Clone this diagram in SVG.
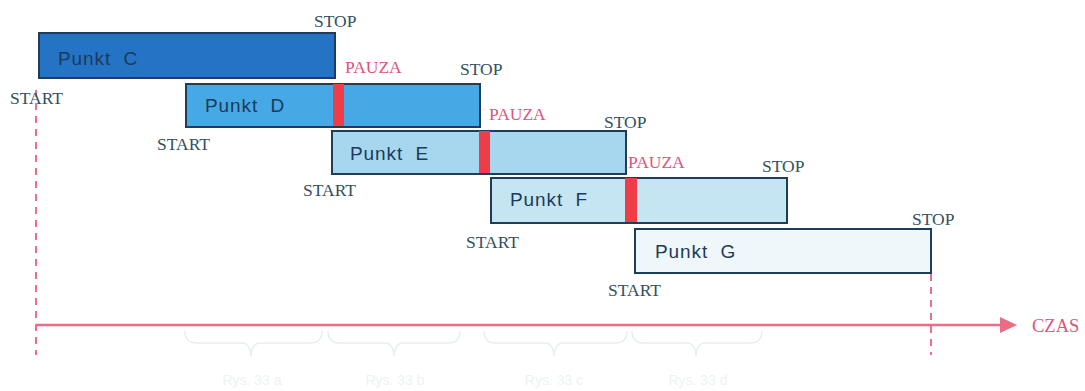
<svg xmlns="http://www.w3.org/2000/svg" width="1085" height="391" viewBox="0 0 1085 391">
<defs>
<style>
.box{stroke:#1d3d5a;stroke-width:2}
.pt{font-family:"Liberation Sans",Arial,sans-serif;font-size:19px;letter-spacing:0.9px;fill:#1c3a5a;white-space:pre}
.lbl{font-family:"Liberation Serif","Times New Roman",serif;font-size:17.5px;fill:#33505f}
.pz{font-family:"Liberation Serif","Times New Roman",serif;font-size:17.5px;fill:#e2547a}
.bar{fill:#ee3c48}
.dash{stroke:#ee6e8c;stroke-width:2;stroke-dasharray:7,6;fill:none}
.brace{fill:none;stroke:#e8eef4;stroke-width:1.5}
.rys{font-family:"Liberation Sans",Arial,sans-serif;font-size:14px;fill:#eef2f6;text-anchor:middle}
</style>
</defs>
<rect width="1085" height="391" fill="#ffffff"/>
<g id="connectors">
<line class="dash" x1="36" y1="90" x2="36" y2="355"/>
<line class="dash" x1="931" y1="274" x2="931" y2="355"/>
<line x1="36" y1="325" x2="1003" y2="325" stroke="#ef6a85" stroke-width="2.5"/>
<path d="M1000,317 L1017,325 L1000,333 z" fill="#ef6a85"/>
</g>
<g id="punkt-c">
<rect class="box" x="39" y="33" width="296" height="45" fill="#2473c4"/>
<text class="pt" x="58" y="65">Punkt  C</text>
<text class="lbl" x="314" y="27">STOP</text>
<text class="lbl" x="10" y="104">START</text>
</g>
<g id="punkt-d">
<rect class="box" x="186" y="84" width="294" height="43" fill="#46a8e4"/>
<rect class="bar" x="333" y="84" width="11" height="42"/>
<text class="pt" x="205" y="112">Punkt  D</text>
<text class="pz" x="345" y="73">PAUZA</text>
<text class="lbl" x="460" y="75">STOP</text>
<text class="lbl" x="157" y="150">START</text>
</g>
<g id="punkt-e">
<rect class="box" x="332" y="131" width="294" height="43" fill="#a6d7ef"/>
<rect class="bar" x="479" y="131" width="11" height="42"/>
<text class="pt" x="350" y="160">Punkt  E</text>
<text class="pz" x="489" y="120">PAUZA</text>
<text class="lbl" x="604" y="128">STOP</text>
<text class="lbl" x="303" y="196">START</text>
</g>
<g id="punkt-f">
<rect class="box" x="491" y="178" width="296" height="45" fill="#c6e5f3"/>
<rect class="bar" x="625" y="178" width="12" height="44"/>
<text class="pt" x="510" y="206">Punkt  F</text>
<text class="pz" x="628" y="168">PAUZA</text>
<text class="lbl" x="762" y="172">STOP</text>
<text class="lbl" x="466" y="248">START</text>
</g>
<g id="punkt-g">
<rect class="box" x="635" y="229" width="296" height="44" fill="#eff7fb"/>
<text class="pt" x="655" y="258">Punkt  G</text>
<text class="lbl" x="912" y="225">STOP</text>
<text class="lbl" x="608" y="296">START</text>
</g>
<g id="czas">
<text x="1032" y="332" font-family="Liberation Serif, Times New Roman, serif" font-size="18.5" fill="#e2547a">CZAS</text>
</g>
<g id="braces">
<path class="brace" d="M185,331 Q185,343 197,343 L242,343 Q250,343 251,356 Q252,343 260,343 L310,343 Q322,343 322,331"/>
<path class="brace" d="M328,331 Q328,343 340,343 L385,343 Q393,343 394,356 Q395,343 403,343 L448,343 Q460,343 460,331"/>
<path class="brace" d="M484,331 Q484,343 496,343 L545,343 Q553,343 554,356 Q555,343 563,343 L615,343 Q627,343 627,331"/>
<path class="brace" d="M632,331 Q632,343 644,343 L687,343 Q695,343 696,356 Q697,343 705,343 L750,343 Q762,343 762,331"/>
<text class="rys" x="252" y="385">Rys. 33 a</text>
<text class="rys" x="395" y="385">Rys. 33 b</text>
<text class="rys" x="554" y="385">Rys. 33 c</text>
<text class="rys" x="698" y="385">Rys. 33 d</text>
</g>
</svg>
